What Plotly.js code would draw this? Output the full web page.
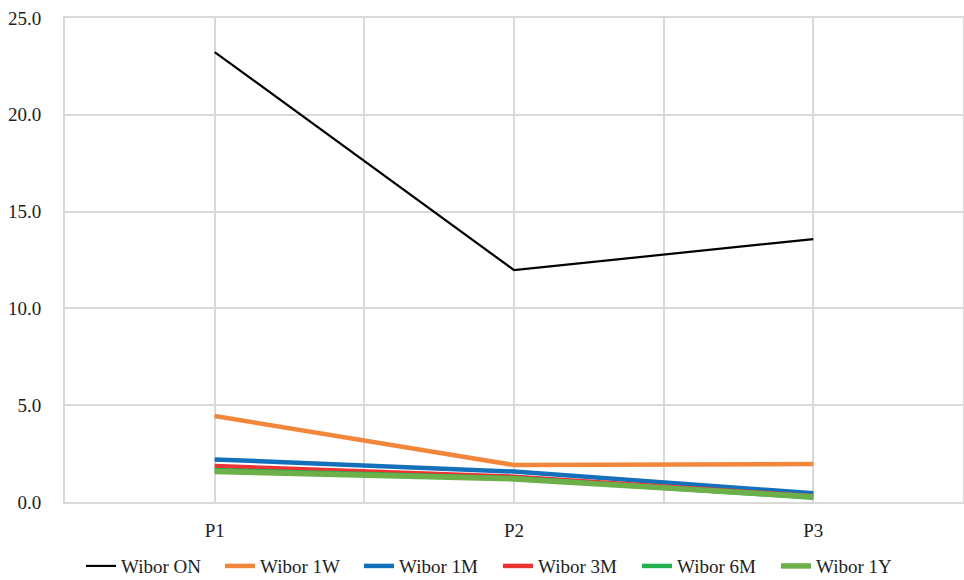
<!DOCTYPE html>
<html>
<head>
<meta charset="utf-8">
<script src="https://cdn.plot.ly/plotly-3.0.1.min.js"></script>
<style>
  html, body { margin: 0; padding: 0; background: #fff; }
  #chart { width: 964px; height: 580px; }
</style>
</head>
<body>
<div id="chart"></div>
<script>
// Periods on the horizontal axis
const periods = ["P1", "P2", "P3"];

// Rate series (one value per period)
const wiborON = [23.24, 11.98, 13.58];
const wibor1W = [4.44, 1.91, 1.96];
const wibor1M = [2.20, 1.57, 0.45];
const wibor3M = [1.86, 1.31, 0.30];
const wibor6M = [1.65, 1.24, 0.22];
const wibor1Y = [1.57, 1.19, 0.27];

const seriesNames = ["Wibor ON", "Wibor 1W", "Wibor 1M", "Wibor 3M", "Wibor 6M", "Wibor 1Y"];
const seriesValues = [wiborON, wibor1W, wibor1M, wibor3M, wibor6M, wibor1Y];
const seriesColors = ["#000000", "#F2873C", "#1570BC", "#EE3333", "#25B050", "#6DB04A"];
const seriesWidths = [2.2, 4.5, 4.5, 4.5, 4.5, 5.5];

// Category positions on a linear axis so gridlines can sit both on and between periods
const xPos = periods.map((_, i) => i);

const traces = seriesNames.map((name, k) => ({
  type: "scatter",
  mode: "lines",
  name: name,
  x: xPos,
  y: seriesValues[k],
  line: { color: seriesColors[k], width: seriesWidths[k] },
  hoverinfo: "x+y+name"
}));

const serif = '"Liberation Serif", "Times New Roman", serif';
const font = { family: serif, size: 19, color: "#222" };
const gridColor = "#d9d9d9";

const layout = {
  width: 964,
  height: 580,
  margin: { l: 65, r: 1, t: 18, b: 78 },
  paper_bgcolor: "#ffffff",
  plot_bgcolor: "#ffffff",
  font: font,
  showlegend: true,
  legend: {
    orientation: "h",
    xref: "container",
    yref: "container",
    x: 0.084, xanchor: "left",
    y: 0.024, yanchor: "middle",
    font: font,
    itemwidth: 30,
    entrywidth: 94,
    tracegroupgap: 0
  },
  xaxis: {
    type: "linear",
    range: [-0.5, 2.5],
    tickmode: "array",
    tickvals: xPos,
    ticktext: periods,
    showgrid: true,
    gridcolor: gridColor,
    gridwidth: 2,
    minor: {
      tickmode: "array",
      tickvals: [-0.5, 0.5, 1.5, 2.5],
      showgrid: true,
      gridcolor: gridColor,
      gridwidth: 2,
      ticks: ""
    },
    showline: true,
    mirror: true,
    linecolor: gridColor,
    linewidth: 2,
    zeroline: false,
    ticks: "",
    ticklabelstandoff: 10,
    tickfont: font,
    fixedrange: true
  },
  yaxis: {
    range: [0, 25],
    tickmode: "linear",
    tick0: 0,
    dtick: 5,
    tickformat: ".1f",
    showgrid: true,
    gridcolor: gridColor,
    gridwidth: 2,
    showline: true,
    mirror: true,
    linecolor: gridColor,
    linewidth: 2,
    zeroline: false,
    ticks: "",
    ticklabelstandoff: 18,
    tickfont: font,
    fixedrange: true
  }
};

Plotly.newPlot("chart", traces, layout, { displayModeBar: false, staticPlot: true });
</script>
</body>
</html>
